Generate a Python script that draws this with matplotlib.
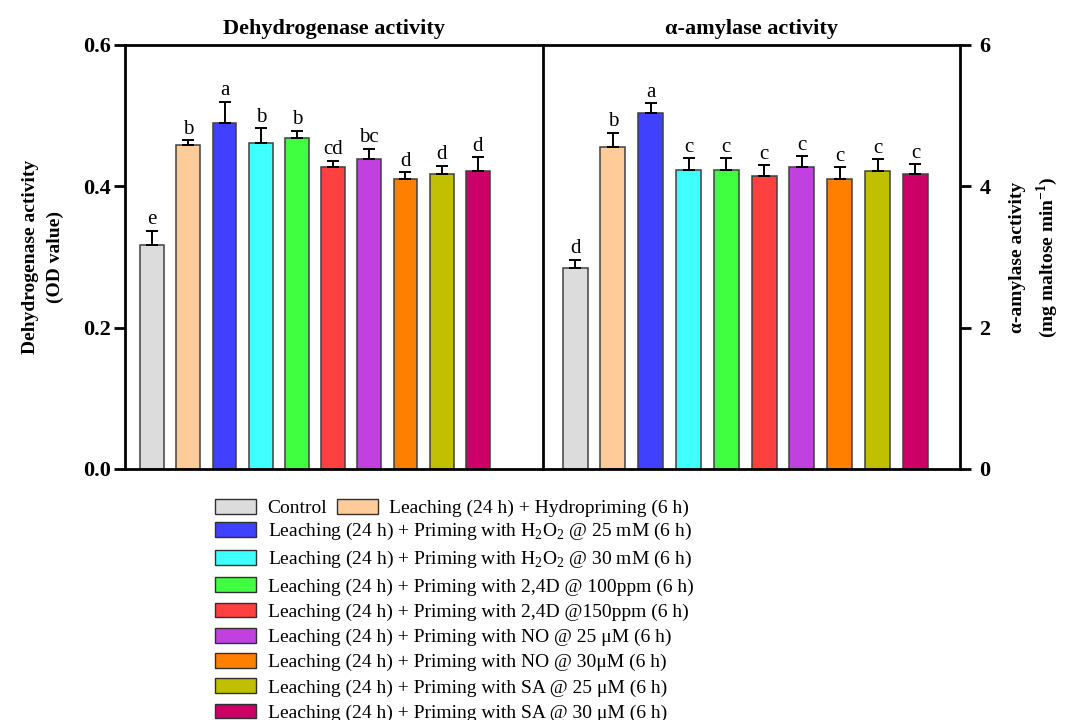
import numpy as np
import matplotlib
matplotlib.use('Agg')
import matplotlib.pyplot as plt
from matplotlib.patches import Patch

plt.rcParams['font.family'] = ['Liberation Serif', 'DejaVu Serif']
plt.rcParams['mathtext.fontset'] = 'custom'
plt.rcParams['mathtext.rm'] = 'Liberation Serif'
plt.rcParams['mathtext.bf'] = 'Liberation Serif:bold'

# treatments
labels = ['Control',
          'Leaching (24 h) + Hydropriming (6 h)',
          'Leaching (24 h) + Priming with H$_2$O$_2$ @ 25 mM (6 h)',
          'Leaching (24 h) + Priming with H$_2$O$_2$ @ 30 mM (6 h)',
          'Leaching (24 h) + Priming with 2,4D @ 100ppm (6 h)',
          'Leaching (24 h) + Priming with 2,4D @150ppm (6 h)',
          'Leaching (24 h) + Priming with NO @ 25 \u03bcM (6 h)',
          'Leaching (24 h) + Priming with NO @ 30\u03bcM (6 h)',
          'Leaching (24 h) + Priming with SA @ 25 \u03bcM (6 h)',
          'Leaching (24 h) + Priming with SA @ 30 \u03bcM (6 h)']
colors = ['#dcdcdc', '#ffcc99', '#4040ff', '#40ffff', '#40ff40',
          '#ff4040', '#c040e0', '#ff8000', '#c0c000', '#cc0066']

# dehydrogenase (OD value)
dh_mean = [0.317, 0.458, 0.489, 0.461, 0.468, 0.428, 0.438, 0.410, 0.418, 0.421]
dh_err = [0.020, 0.007, 0.031, 0.021, 0.011, 0.008, 0.015, 0.010, 0.011, 0.020]
dh_letters = ['e', 'b', 'a', 'b', 'b', 'cd', 'bc', 'd', 'd', 'd']

# alpha-amylase (mg maltose min-1)
am_mean = [2.85, 4.56, 5.04, 4.23, 4.23, 4.14, 4.28, 4.10, 4.22, 4.18]
am_err = [0.11, 0.20, 0.14, 0.17, 0.17, 0.16, 0.15, 0.17, 0.16, 0.13]
am_letters = ['d', 'b', 'a', 'c', 'c', 'c', 'c', 'c', 'c', 'c']

fig = plt.figure(figsize=(10.77, 7.2), dpi=100)
ax1 = fig.add_axes([125/1077, 251/720, 418/1077, 424/720])
ax2 = fig.add_axes([543/1077, 251/720, 417/1077, 424/720])
ax2.patch.set_visible(False)

x = np.arange(len(labels))

def draw_panel(ax, mean, err, letters, pad):
    ax.bar(x, mean, width=0.66, color=colors, edgecolor='#404040', linewidth=1.1, zorder=2)
    ax.errorbar(x, mean, yerr=[np.zeros(len(err)), err], fmt='none', ecolor='black',
                elinewidth=1.4, capsize=4, capthick=1.4, zorder=3)
    for xi, m, e, l in zip(x, mean, err, letters):
        ax.text(xi, m + e + pad, l, ha='center', va='bottom', fontsize=15)
    for s in ax.spines.values():
        s.set_linewidth(2)
    ax.set_xticks([])
    ax.tick_params(axis='y', direction='out', length=8, width=2, labelsize=16, pad=2)

draw_panel(ax1, dh_mean, dh_err, dh_letters, 0.002)
ax1.set_xlim(-0.75, 10.8)
ax1.set_ylim(0, 0.6)
ax1.set_yticks([0, 0.2, 0.4, 0.6])
ax1.set_yticklabels(['0.0', '0.2', '0.4', '0.6'])
for t in ax1.get_yticklabels():
    t.set_fontweight('bold')
ax1.set_ylabel('Dehydrogenase activity\n(OD value)', fontsize=14, fontweight='bold',
               labelpad=14, linespacing=1.55)
ax1.set_title('Dehydrogenase activity', fontsize=16, fontweight='bold', pad=8)

draw_panel(ax2, am_mean, am_err, am_letters, 0.02)
ax2.set_xlim(-0.85, 10.18)
ax2.set_ylim(0, 6)
ax2.spines['left'].set_visible(False)
ax2.yaxis.tick_right()
ax2.yaxis.set_label_position('right')
ax2.set_yticks([0, 2, 4, 6])
ax2.tick_params(axis='y', pad=6)
for t in ax2.get_yticklabels():
    t.set_fontweight('bold')
ax2.set_ylabel('\u03b1-amylase activity\n(mg maltose min$^{\\mathbf{-1}}$)', fontsize=14,
               fontweight='bold', labelpad=13, linespacing=1.45)
ax2.set_title('\u03b1-amylase activity', fontsize=16, fontweight='bold', pad=8)

handles = [Patch(facecolor=c, edgecolor='#303030', linewidth=1.0) for c in colors]
leg_kw = dict(frameon=False, fontsize=14, handlelength=2.1, handleheight=0.8,
              handletextpad=0.6, borderpad=0, borderaxespad=0, loc='upper left')
fig.legend(handles[:2], labels[:2], ncol=2, columnspacing=0.5,
           bbox_to_anchor=(215/1077, 1 - 499/720), **leg_kw)
fig.legend(handles[2:], labels[2:], ncol=1, labelspacing=0.36,
           bbox_to_anchor=(215/1077, 1 - 521/720), **leg_kw)

fig.savefig('out.png', dpi=100)
